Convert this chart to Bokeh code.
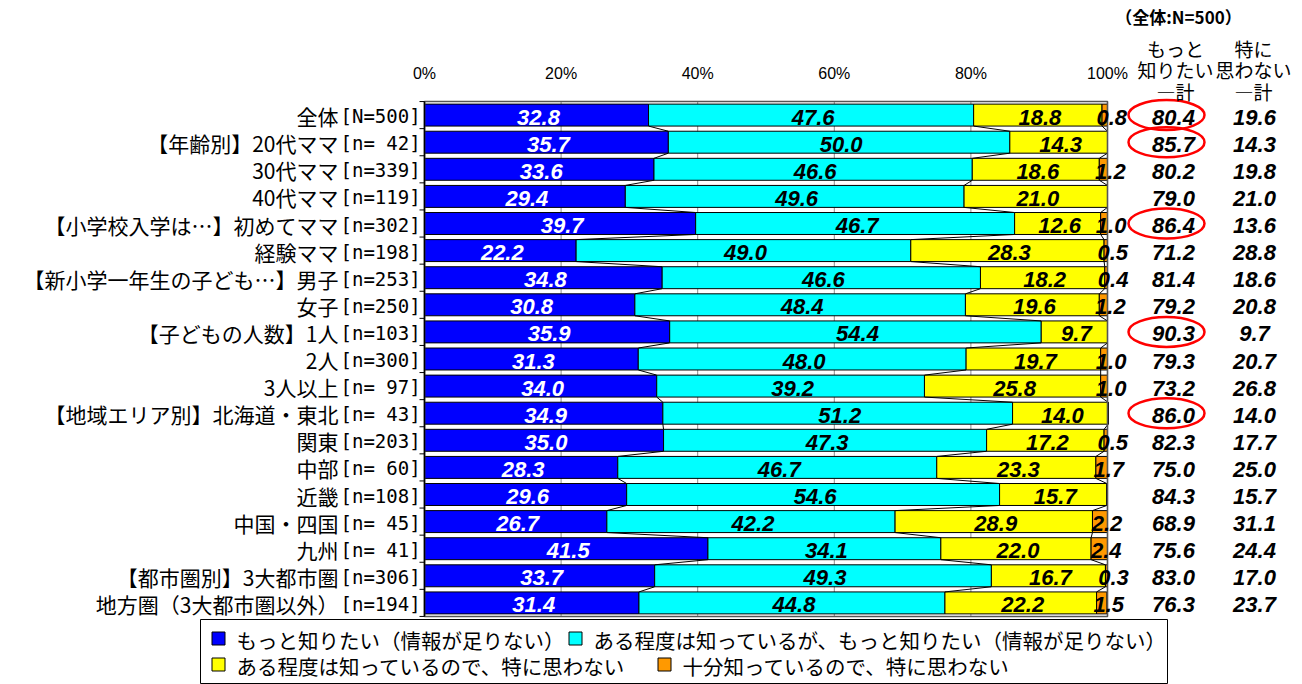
import numpy as np
from bokeh.plotting import figure
from bokeh.models import Range1d, ColumnDataSource
from bokeh.core.properties import value
from bokeh.embed import file_html
from bokeh.resources import INLINE

# ---------------- data ----------------
names = ["全体", "【年齢別】20代ママ", "30代ママ", "40代ママ",
         "【小学校入学は…】初めてママ", "経験ママ",
         "【新小学一年生の子ども…】男子", "女子",
         "【子どもの人数】1人", "2人", "3人以上",
         "【地域エリア別】北海道・東北", "関東", "中部", "近畿", "中国・四国", "九州",
         "【都市圏別】3大都市圏", "地方圏（3大都市圏以外）"]
sizes = ["[N=500]", "[n= 42]", "[n=339]", "[n=119]", "[n=302]", "[n=198]", "[n=253]",
         "[n=250]", "[n=103]", "[n=300]", "[n= 97]", "[n= 43]", "[n=203]", "[n= 60]",
         "[n=108]", "[n= 45]", "[n= 41]", "[n=306]", "[n=194]"]
want_more = [32.8, 35.7, 33.6, 29.4, 39.7, 22.2, 34.8, 30.8, 35.9, 31.3, 34.0,
             34.9, 35.0, 28.3, 29.6, 26.7, 41.5, 33.7, 31.4]
know_some_want = [47.6, 50.0, 46.6, 49.6, 46.7, 49.0, 46.6, 48.4, 54.4, 48.0, 39.2,
                  51.2, 47.3, 46.7, 54.6, 42.2, 34.1, 49.3, 44.8]
know_some_ok = [18.8, 14.3, 18.6, 21.0, 12.6, 28.3, 18.2, 19.6, 9.7, 19.7, 25.8,
                14.0, 17.2, 23.3, 15.7, 28.9, 22.0, 16.7, 22.2]
know_enough = [0.8, 0.0, 1.2, 0.0, 1.0, 0.5, 0.4, 1.2, 0.0, 1.0, 1.0,
               0.0, 0.5, 1.7, 0.0, 2.2, 2.4, 0.3, 1.5]
total_more = [80.4, 85.7, 80.2, 79.0, 86.4, 71.2, 81.4, 79.2, 90.3, 79.3, 73.2,
              86.0, 82.3, 75.0, 84.3, 68.9, 75.6, 83.0, 76.3]
total_not = [19.6, 14.3, 19.8, 21.0, 13.6, 28.8, 18.6, 20.8, 9.7, 20.7, 26.8,
             14.0, 17.7, 25.0, 15.7, 31.1, 24.4, 17.0, 23.7]
highlight = [True, True, False, False, True, False, False, False, True, False, False,
             True, False, False, False, False, False, False, False]
series_names = ["もっと知りたい（情報が足りない）",
                "ある程度は知っているが、もっと知りたい（情報が足りない）",
                "ある程度は知っているので、特に思わない",
                "十分知っているので、特に思わない"]
tick_values = [0, 20, 40, 60, 80, 100]
tick_labels = ["0%", "20%", "40%", "60%", "80%", "100%"]
header_note = "（全体:N=500）"
col_head_1 = ["もっと", "知りたい", "―計"]
col_head_2 = ["特に", "思わない", "―計"]

# ---------------- layout helpers ----------------
W, H = 1302, 684
X0, XS = 424.0, 6.83          # px of 0%, px per %
ROW0, RS = 114.6, 27.1         # px of first row centre, px per row


def px_x(px):
    return (px - X0) / XS


def px_y(py):
    return (py - ROW0) / RS


n = len(names)
rows = list(range(n))
BAR_H = 0.81
colors = ["#0000FF", "#00FFFF", "#FFFF00", "#FF9900"]
JP = "Noto Sans CJK JP"
NUM = "Liberation Sans"

p = figure(width=W, height=H, x_range=Range1d(px_x(0), px_x(W)),
           y_range=Range1d(px_y(H), px_y(0)),
           x_axis_location=None, y_axis_location=None,
           toolbar_location=None, output_backend="svg",
           min_border=0)
p.outline_line_color = None
p.background_fill_color = "white"
p.grid.visible = False

# percentage scale labels (top)
p.text(x=tick_values, y=[px_y(73)] * len(tick_values), text=tick_labels,
       text_align="center", text_baseline="middle",
       text_font=value(NUM), text_font_size="16px", text_color="black")

# gridlines
gx = tick_values[1:-1]
p.segment(x0=gx, y0=[-0.5] * len(gx), x1=gx, y1=[n - 0.5] * len(gx),
          line_color="#8c8c8c", line_width=1)

# bars
keys = ["a", "b", "c", "d"]
src = ColumnDataSource(dict(row=rows, a=want_more, b=know_some_want, c=know_some_ok, d=know_enough))
p.hbar_stack(keys, y="row", height=BAR_H, color=colors, line_color="black",
             line_width=1, source=src)

# series lines between bars
vals = np.array([want_more, know_some_want, know_some_ok, know_enough])
cum = np.cumsum(vals, axis=0)
sx0, sy0, sx1, sy1 = [], [], [], []
for k in range(3):
    for i in range(n - 1):
        sx0.append(cum[k][i]); sy0.append(i + BAR_H / 2)
        sx1.append(cum[k][i + 1]); sy1.append(i + 1 - BAR_H / 2)
p.segment(x0=sx0, y0=sy0, x1=sx1, y1=sy1, line_color="black", line_width=1)

# plot area frame
p.quad(left=[0], right=[100], top=[-0.5], bottom=[n - 0.5], fill_color=None,
       line_color="#555555", line_width=1.6)
p.segment(x0=[0], y0=[-0.5], x1=[0], y1=[n - 0.5], line_color="black", line_width=1.5)
bt = [i - 0.5 for i in range(n + 1)]
p.segment(x0=[px_x(419)] * len(bt), y0=bt, x1=[0] * len(bt), y1=bt,
          line_color="black", line_width=1)

# value labels
starts = cum - vals
lx, ly, lt, lc, lo = [], [], [], [], []
for k in range(4):
    for i in range(n):
        v = vals[k][i]
        if v <= 0:
            continue
        lx.append(starts[k][i] + v / 2)
        ly.append(i)
        lt.append(f"{v:.1f}")
        lc.append("white" if k == 0 else "black")
        lo.append(7 if k == 3 else 2)
p.text(x="x", y="y", text="t", text_color="c", x_offset="o",
       source=ColumnDataSource(dict(x=lx, y=ly, t=lt, c=lc, o=lo)),
       text_align="center", text_baseline="middle", y_offset=2,
       text_font=value(NUM), text_font_style="bold italic", text_font_size="22px")

# right-hand totals
C1, C2 = px_x(1173), px_x(1254)
p.text(x=[C1] * n, y=rows, text=[f"{v:.1f}" for v in total_more],
       text_align="center", text_baseline="middle", y_offset=2,
       text_font=value(NUM), text_font_style="bold italic", text_font_size="22px",
       text_color="black")
p.text(x=[C2] * n, y=rows, text=[f"{v:.1f}" for v in total_not],
       text_align="center", text_baseline="middle", y_offset=2,
       text_font=value(NUM), text_font_style="bold italic", text_font_size="22px",
       text_color="black")
hy = [i for i in rows if highlight[i]]
p.ellipse(x=[px_x(1166)] * len(hy), y=hy, width=76, height=30,
          width_units="screen", height_units="screen",
          fill_color=None, line_color="#FF0000", line_width=2.5)

# category labels
p.text(x=[px_x(338)] * n, y=rows, text=names, text_align="right", text_baseline="middle",
       text_font=value(JP), text_font_size="21px", text_color="black", y_offset=1)
p.text(x=[px_x(340)] * n, y=rows, text=sizes, text_align="left", text_baseline="middle",
       text_font=value("DejaVu Sans Mono"), text_font_size="19px", text_color="black", y_offset=1)

# header
p.text(x=[px_x(1178)], y=[px_y(16)], text=[header_note], text_align="center",
       text_baseline="middle", text_font=value(JP), text_font_style="bold",
       text_font_size="17px", text_color="black")
hdr_y = [px_y(48), px_y(69), px_y(91)]
p.text(x=[px_x(1175)] * 3, y=hdr_y, text=col_head_1, text_align="center",
       text_baseline="middle", text_font=value(JP), text_font_size="19px", text_color="black")
p.text(x=[px_x(1253)] * 3, y=hdr_y, text=col_head_2, text_align="center",
       text_baseline="middle", text_font=value(JP), text_font_size="19px", text_color="black")

# legend box
p.quad(left=[px_x(200)], right=[px_x(1167)], top=[px_y(619)], bottom=[px_y(683)],
       fill_color="white", line_color="black", line_width=1)
leg_sq_x = [px_x(218), px_x(575), px_x(218), px_x(664)]
leg_tx_x = [px_x(236), px_x(593), px_x(236), px_x(682)]
leg_y = [px_y(638), px_y(638), px_y(664), px_y(664)]
p.rect(x=leg_sq_x, y=leg_y, width=13, height=13, width_units="screen", height_units="screen",
       fill_color=colors, line_color="black", line_width=1)
p.text(x=leg_tx_x, y=leg_y, text=series_names, text_align="left", text_baseline="middle",
       text_font=value(JP), text_font_size="20.5px", text_color="black", y_offset=1)

open("out.html", "w").write(file_html(p, INLINE))
